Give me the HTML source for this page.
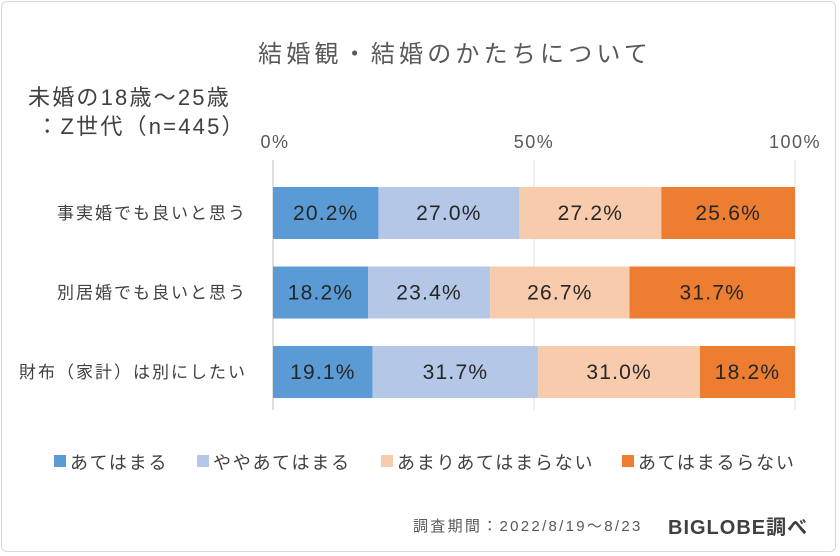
<!DOCTYPE html>
<html><head><meta charset="utf-8"><style>
body{margin:0;background:#fff}
#wrap{position:relative;width:840px;height:556px;overflow:hidden;font-family:"Liberation Sans","Noto Sans CJK JP",sans-serif;color:#404040}
#frame{position:absolute;left:1px;top:1px;width:835px;height:551px;border:1px solid #d9d9d9;border-radius:6px;box-sizing:border-box}
.t{position:absolute;white-space:nowrap}
</style></head><body>
<div id="wrap">
<div id="frame"></div>
<div class="t" style="left:258px;top:34px;font-size:24px;letter-spacing:4.2px;color:#595959">結婚観・結婚のかたちについて</div>
<div class="t" style="left:28px;top:83px;font-size:22px;letter-spacing:2.2px;line-height:29px;color:#404040">未婚の18歳～25歳<br>&nbsp;：Z世代（n=445）</div>
<svg id="svg" width="840" height="556" style="position:absolute;left:0;top:0"></svg>
<div class="t" style="left:413px;top:515px;font-size:15px;letter-spacing:2.3px;color:#595959">調査期間：2022/8/19～8/23</div>
<div class="t" style="left:668px;top:511px;font-size:20px;letter-spacing:1px;font-weight:bold;color:#404040">BIGLOBE調べ</div>
</div>
<script>
const categories=["事実婚でも良いと思う","別居婚でも良いと思う","財布（家計）は別にしたい"];
const seriesNames=["あてはまる","ややあてはまる","あまりあてはまらない","あてはまるらない"];
const s1=[20.2,18.2,19.1];
const s2=[27.0,23.4,31.7];
const s3=[27.2,26.7,31.0];
const s4=[25.6,31.7,18.2];
const tickLabels=["0%","50%","100%"];
const tickValues=[0,50,100];
const colors=["#5B9BD5","#B4C7E7","#F8CBAD","#ED7D31"];
const svg=document.getElementById('svg');const NS="http://www.w3.org/2000/svg";
const x0=273,x1=795;
const xs=v=>x0+(x1-x0)*v/100;
const rowY=i=>187+i*79.5, bh=52;
function mk(t,a){const e=document.createElementNS(NS,t);for(const k in a)e.setAttribute(k,a[k]);svg.appendChild(e);return e;}
tickValues.forEach((v,i)=>{
 const g=mk('line',{x1:xs(v),x2:xs(v),y1:160,y2:410,stroke:i==0?'#bfbfbf':'#e0e0e0','stroke-width':1});
 
 
 const t=mk('text',{x:xs(v)+(i==0?2:0),y:148,'text-anchor':'middle','font-size':18,'letter-spacing':1.5,fill:'#595959'});
 t.textContent=tickLabels[i];
 
 
});
const series=[s1,s2,s3,s4];
categories.forEach((c,i)=>{
 const y=rowY(i);
 const l=mk('text',{x:247,y:y+bh/2+6,'text-anchor':'end','font-size':17,'letter-spacing':2,fill:'#404040'});
 l.textContent=c;
 
 
 let acc=0;
 series.forEach((s,j)=>{
  const v=s[i];
  const r=mk('rect',{x:xs(acc),y:y,width:xs(acc+v)-xs(acc),height:bh,fill:colors[j]});
  
  
  const t=mk('text',{x:(xs(acc)+xs(acc+v))/2,y:y+bh/2+7,'text-anchor':'middle','font-size':21,'letter-spacing':1.2,fill:'#262626'});
  t.textContent=v.toFixed(1)+'%';
  
  
  acc+=v;
 });
});
const legX=[54,197,381,622];
seriesNames.forEach((n,j)=>{
 const r=mk('rect',{x:legX[j],y:455,width:12,height:12,fill:colors[j]});
 
 
 const t=mk('text',{x:legX[j]+16,y:469,'font-size':18,'letter-spacing':1.8,fill:'#404040'});
 t.textContent=n;
 
 
});
</script>
</body></html>
